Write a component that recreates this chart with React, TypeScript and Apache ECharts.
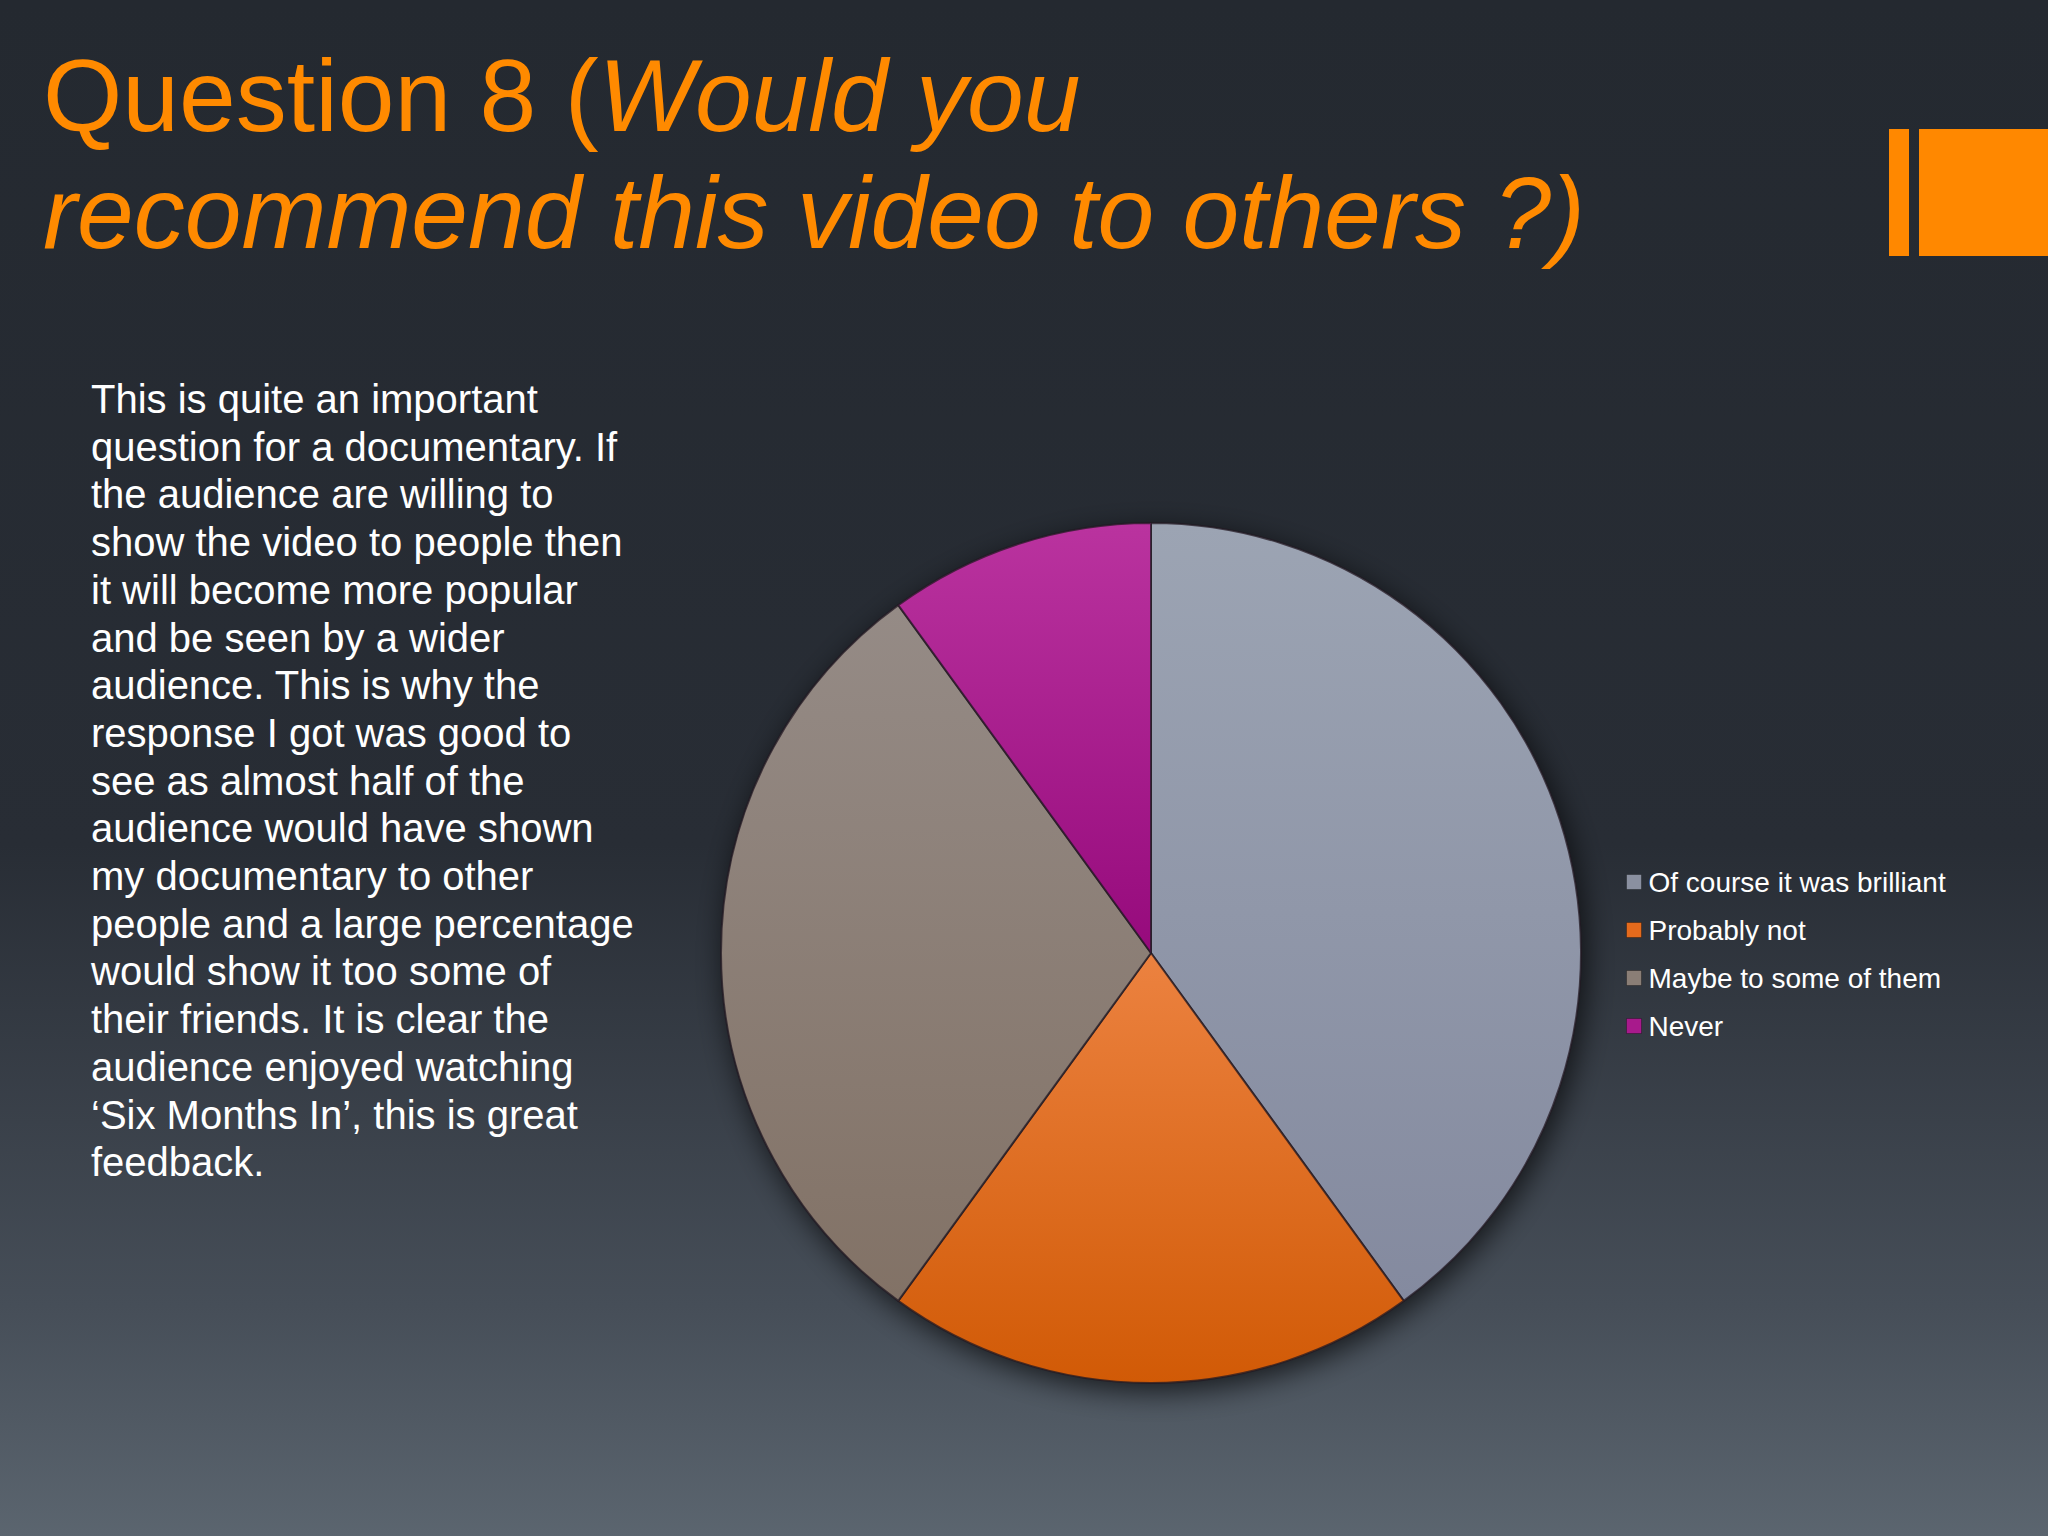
import React, { useEffect, useRef } from "react";
import * as echarts from "echarts";

const categories = [
  "Of course it was brilliant",
  "Probably not",
  "Maybe to some of them",
  "Never",
];
const responses = [8, 4, 6, 2];
const sliceTop = ["#9ca4b3", "#ec8240", "#958b86", "#ba339f"];
const sliceBottom = ["#848a9f", "#d15a06", "#827266", "#960a7c"];
const legendColors = ["#8a90a0", "#e46a1c", "#8a7e76", "#a81a8c"];

const titleLine1Normal = "Question 8 (";
const titleLine1Italic = "Would you";
const titleLine2 = "recommend this video to others ?)";

const bodyLines = [
  "This is quite an important",
  "question for a documentary. If",
  "the audience are willing to",
  "show the video to people then",
  "it will become more popular",
  "and be seen by a wider",
  "audience. This is why the",
  "response I got was good to",
  "see as almost half of the",
  "audience would have shown",
  "my documentary to other",
  "people and a large percentage",
  "would show it too some of",
  "their friends. It is clear the",
  "audience enjoyed watching",
  "\u2018Six Months In\u2019, this is great",
  "feedback.",
];

const FONT = "'Liberation Sans', Arial, Helvetica, sans-serif";
const ORANGE = "#ff8a00";

export default function App() {
  const ref = useRef<HTMLDivElement>(null);

  useEffect(() => {
    if (!ref.current) return;
    const chart = echarts.init(ref.current, null, { renderer: "svg" });

    const bodyTexts = bodyLines.map((line, i) => ({
      type: "text",
      x: 91,
      y: 399 + i * 47.7,
      silent: true,
      style: {
        text: line,
        fill: "#ffffff",
        fontSize: 40,
        fontFamily: FONT,
        verticalAlign: "middle",
        align: "left",
      },
    }));

    const option: any = {
      animation: false,
      backgroundColor: new echarts.graphic.LinearGradient(0, 0, 0, 1, [
        { offset: 0, color: "#242930" },
        { offset: 0.55, color: "#282d35" },
        { offset: 0.85, color: "#464e58" },
        { offset: 1, color: "#5b656f" },
      ]),
      graphic: [
        {
          type: "rect",
          silent: true,
          shape: { x: 1889, y: 129, width: 20, height: 127 },
          style: { fill: "#ff8800" },
        },
        {
          type: "rect",
          silent: true,
          shape: { x: 1919, y: 129, width: 129, height: 127 },
          style: { fill: "#ff8800" },
        },
        {
          type: "text",
          x: 43,
          y: 96,
          silent: true,
          style: {
            text: "{n|" + titleLine1Normal + "}{i|" + titleLine1Italic + "}",
            verticalAlign: "middle",
            align: "left",
            rich: {
              n: { fontSize: 102, fontFamily: FONT, fill: ORANGE, color: ORANGE },
              i: {
                fontSize: 102,
                fontFamily: FONT,
                fontStyle: "italic",
                fill: ORANGE,
                color: ORANGE,
              },
            },
          },
        },
        {
          type: "text",
          x: 43,
          y: 213,
          silent: true,
          style: {
            text: titleLine2,
            fill: ORANGE,
            fontSize: 102,
            fontStyle: "italic",
            fontFamily: FONT,
            verticalAlign: "middle",
            align: "left",
          },
        },
        ...bodyTexts,
      ],
      legend: {
        orient: "vertical",
        left: 1626,
        top: 868,
        padding: 0,
        itemWidth: 15,
        itemHeight: 15,
        itemGap: 20,
        icon: "rect",
        selectedMode: false,
        textStyle: {
          color: "#ffffff",
          fontSize: 28,
          lineHeight: 28,
          fontFamily: FONT,
          padding: [0, 0, 0, 2],
        },
        data: categories.map((c, i) => ({
          name: c,
          itemStyle: { color: legendColors[i], borderColor: "rgba(0,0,0,0.3)", borderWidth: 1 },
        })),
      },
      series: [
        {
          type: "pie",
          name: "shadow",
          center: [1151, 953],
          radius: 430,
          silent: true,
          z: 1,
          label: { show: false },
          labelLine: { show: false },
          emphasis: { disabled: true },
          data: [
            {
              value: 1,
              name: "",
              itemStyle: {
                color: "#2b3038",
                shadowBlur: 30,
                shadowColor: "rgba(0,0,0,0.7)",
                shadowOffsetX: 4,
                shadowOffsetY: 8,
              },
            },
          ],
        },
        {
          type: "pie",
          name: "Q8",
          center: [1151, 953],
          radius: 430,
          startAngle: 90,
          clockwise: true,
          silent: true,
          z: 2,
          label: { show: false },
          labelLine: { show: false },
          emphasis: { disabled: true },
          itemStyle: {
            borderColor: "rgba(35,25,35,0.75)",
            borderWidth: 2,
          },
          data: categories.map((c, i) => ({
            name: c,
            value: responses[i],
            itemStyle: {
              color: new echarts.graphic.LinearGradient(0, 0, 0, 1, [
                { offset: 0, color: sliceTop[i] },
                { offset: 1, color: sliceBottom[i] },
              ]),
            },
          })),
        },
      ],
    };

    chart.setOption(option);
    return () => {
      chart.dispose();
    };
  }, []);

  return (
    <div
      ref={ref}
      style={{ position: "absolute", left: 0, top: 0, width: 2048, height: 1536 }}
    />
  );
}
